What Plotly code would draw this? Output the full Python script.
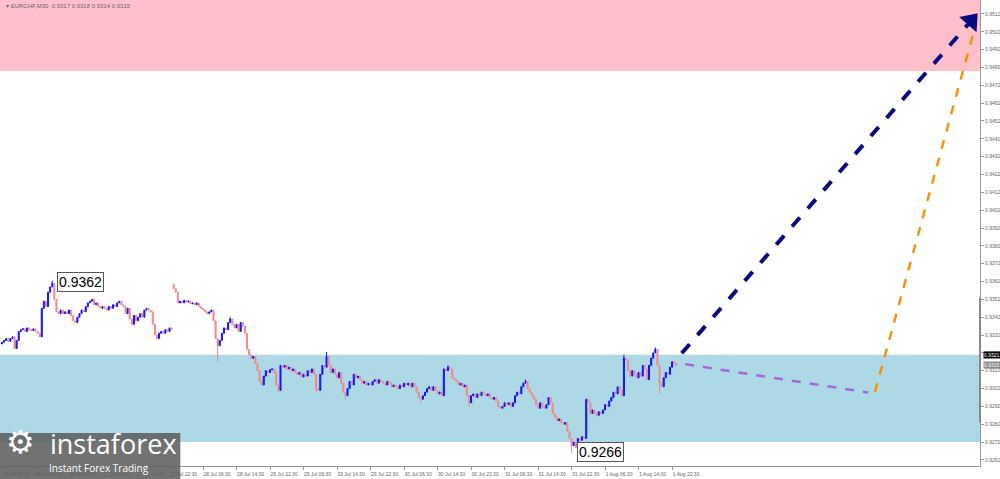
import plotly.graph_objects as go

# EURCHF M30, closes in 1e-5 units (bar 0 = left edge of chart)
closes = [
    93280, 93290, 93300, 93285, 93300, 93310, 93245, 93290, 93340, 93350, 93355, 93340, 93360, 93350, 93345, 93355,
    93340, 93330, 93310, 93470, 93510, 93480, 93560, 93590, 93610, 93520, 93450, 93440, 93460, 93440, 93450, 93440,
    93460, 93430, 93400, 93390, 93420, 93440, 93460, 93450, 93480, 93500, 93510, 93520, 93490, 93500, 93480, 93470,
    93480, 93470, 93460, 93480, 93470, 93490, 93480, 93500, 93510, 93490, 93480, 93440, 93470, 93410, 93380, 93430,
    93400, 93420, 93440, 93420, 93460, 93470, 93460, 93450, 93380, 93320, 93300, 93330, 93340, 93330, 93350, 93340,
    93360, 93350, 93580, 93560, 93500, 93510, 93500, 93515, 93505, 93510, 93495, 93500, 93490, 93500, 93480, 93470,
    93460, 93450, 93440, 93450, 93460, 93400, 93300, 93260, 93290, 93330, 93360, 93350, 93390, 93410, 93380, 93360,
    93380, 93340, 93390, 93370, 93330, 93240, 93210, 93190, 93200, 93160, 93120, 93060, 93040, 93090, 93120, 93110,
    93125, 93130, 93110, 93040, 93010, 93150, 93140, 93150, 93130, 93140, 93120, 93130, 93110, 93100, 93110, 93085,
    93100, 93090, 93120, 93110, 93130, 93100, 93020, 93010, 93100, 93150, 93140, 93200, 93150, 93110, 93130, 93100,
    93080, 93110, 93050, 93000, 92980, 93020, 93060, 93040, 93100, 93080, 93090, 93070, 93050, 93060, 93040, 93050,
    93040, 93060, 93070, 93050, 93070, 93060, 93050, 93040, 93060, 93050, 93030, 93040, 93030, 93020, 93040, 93030,
    93050, 93040, 93050, 93030, 93050, 93030, 93000, 92970, 92960, 92980, 93000, 93020, 93030, 93010, 93030, 93010,
    92990, 93000, 92980, 93130, 93120, 93140, 93130, 93080, 93070, 93060, 93040, 93050, 93030, 93040, 92980, 92940,
    92980, 92990, 92970, 92990, 92980, 93000, 92990, 92980, 92990, 92970, 92960, 92970, 92950, 92920, 92910, 92920,
    92940, 92930, 92940, 92920, 92940, 92980, 93000, 92990, 93030, 93050, 93060, 93020, 93000, 92980, 92960, 92930,
    92910, 92940, 92920, 92910, 92930, 92970, 92940, 92880, 92860, 92840, 92850, 92830, 92820, 92830, 92780, 92740,
    92700, 92720, 92690, 92740, 92730, 92750, 92740, 92960, 92940, 92880, 92900, 92880, 92870, 92890, 92880, 92900,
    92930, 92920, 92950, 92970, 93000, 92990, 93030, 93010, 92980, 93190, 93180, 93120, 93090, 93120, 93100, 93080,
    93110, 93090, 93150, 93130, 93070, 93150, 93190, 93220, 93240, 93150, 93050, 93030, 93080, 93110, 93100, 93140,
    93170, 93160, 93150,
]
first_open = 93270
gap_opens = {82: 93600}
spike_highs = {24: 93625, 82: 93610, 109: 93420, 155: 93225, 213: 93150, 250: 93070, 297: 93210, 312: 93250}
spike_lows = {6: 93240, 103: 93170, 132: 93000, 150: 93000, 164: 92960, 200: 92940, 223: 92920, 272: 92660, 314: 92990}

tick_bars = [0, 16, 32, 48, 64, 80, 96, 112, 128, 144, 160, 176, 192, 208, 224, 240, 256, 272, 288, 304, 320]
tick_text = ["26 Jul 06:30", "26 Jul 14:30", "26 Jul 22:30", "27 Jul 06:30", "27 Jul 14:30", "27 Jul 22:30",
             "28 Jul 06:30", "28 Jul 14:30", "28 Jul 22:30", "29 Jul 06:30", "29 Jul 14:30", "29 Jul 22:30",
             "30 Jul 06:30", "30 Jul 14:30", "30 Jul 22:30", "31 Jul 06:30", "31 Jul 14:30", "31 Jul 22:30",
             "1 Aug 06:30", "1 Aug 14:30", "1 Aug 22:30"]
price_ticks = [0.9262, 0.9272, 0.9282, 0.9292, 0.9302, 0.9312, 0.9322, 0.9332, 0.9342, 0.9352, 0.9362, 0.9372,
               0.9382, 0.9392, 0.9402, 0.9412, 0.9422, 0.9432, 0.9442, 0.9452, 0.9462, 0.9472, 0.9482, 0.9492,
               0.9502, 0.9512]

# zones and forecast wave
sell_zone = [0.9480, 0.9525]
buy_zone = [0.9272, 0.9321]
main_wave_x = [324.6, 462.8]
main_wave_y = [0.93218, 0.95081]
pullback_x = [326.2, 413.6]
pullback_y = [0.93157, 0.92998]
final_x = [416.9, 465.1]
final_y = [0.93001, 0.95064]
marked_high = (26.3, 0.9362)
marked_low = (274.6, 0.92662)

opens, highs, lows = [], [], []
prev = first_open
for i, c in enumerate(closes):
    o = gap_opens.get(i, prev)
    opens.append(o / 1e5)
    highs.append(max(o, c, spike_highs.get(i, 0)) / 1e5)
    lows.append(min(o, c, spike_lows.get(i, 10 ** 6)) / 1e5)
    prev = c
bars = list(range(len(closes)))

fig = go.Figure()
fig.add_trace(go.Candlestick(
    x=bars, open=opens, high=highs, low=lows, close=[c / 1e5 for c in closes],
    increasing=dict(line=dict(color="#1414ff", width=1), fillcolor="#1414ff"),
    decreasing=dict(line=dict(color="#f08a8a", width=1), fillcolor="#f08a8a"),
    whiskerwidth=0, hoverinfo="skip", showlegend=False,
))

fig.add_trace(go.Scatter(x=pullback_x, y=pullback_y, mode="lines",
                         line=dict(color="#a468d8", width=2.5, dash="dash"), showlegend=False))
fig.add_trace(go.Scatter(x=final_x, y=final_y, mode="lines",
                         line=dict(color="#f5920a", width=2.5, dash="dash"), showlegend=False))
fig.add_trace(go.Scatter(x=main_wave_x, y=main_wave_y, mode="lines+markers",
                         line=dict(color="#0a0a80", width=4, dash="dash"),
                         marker=dict(symbol="triangle-up", size=[0, 20], color="#0a0a80", opacity=1,
                                     line=dict(width=0), angleref="previous"),
                         showlegend=False))

fig.add_hrect(y0=sell_zone[0], y1=sell_zone[1], fillcolor="#ffc0cb", opacity=1, line_width=0, layer="below")
fig.add_hrect(y0=buy_zone[0], y1=buy_zone[1], fillcolor="#add8e6", opacity=1, line_width=0, layer="below")

label_font = dict(family="Liberation Sans", size=14, color="black")
fig.add_annotation(x=marked_high[0], y=marked_high[1], text="0.9362", showarrow=False, xanchor="left",
                   bgcolor="white", bordercolor="#555", borderwidth=1, borderpad=1, font=label_font)
fig.add_annotation(x=marked_low[0], y=marked_low[1], text="0.9266", showarrow=False, xanchor="left",
                   bgcolor="white", bordercolor="#555", borderwidth=1, borderpad=1, font=label_font)

# header and price markers on the scale
small = dict(family="Liberation Sans", size=5, color="#666")
fig.add_annotation(xref="paper", yref="paper", x=0.004, y=0.997, xanchor="left", yanchor="top",
                   text="▾ EURCHF,M30  0.9317 0.9318 0.9314 0.9315", showarrow=False,
                   font=dict(family="Liberation Sans", size=6, color="#666"))
fig.add_annotation(xref="paper", x=1.003, y=0.9321, xanchor="left", text="0.9321", showarrow=False,
                   bgcolor="black", font=dict(family="Liberation Sans", size=5, color="white"), borderpad=0)
fig.add_annotation(xref="paper", x=1.003, y=0.9315, xanchor="left", text="0.9315", showarrow=False,
                   bgcolor="#8a8a8a", font=dict(family="Liberation Sans", size=5, color="white"), borderpad=0)
fig.add_shape(type="line", xref="paper", x0=1, x1=1, y0=0.9283, y1=0.9353,
              line=dict(color="#888", width=2))

# logo
fig.add_shape(type="rect", xref="paper", yref="paper", x0=0, x1=0.184, y0=-0.03, y1=0.071,
              fillcolor="rgba(95,95,95,0.88)", line_width=0, layer="above")
fig.add_annotation(xref="paper", yref="paper", x=0.004, y=0.006, xanchor="left", yanchor="bottom", text="⚙",
                   showarrow=False, font=dict(family="DejaVu Sans", size=32, color="white"))
fig.add_annotation(xref="paper", yref="paper", x=0.049, y=0.004, xanchor="left", yanchor="bottom",
                   text="instaforex", showarrow=False, font=dict(family="Open Sans", size=27, color="white"))
fig.add_annotation(xref="paper", yref="paper", x=0.048, y=0.014, xanchor="left", yanchor="top",
                   text="Instant Forex Trading", showarrow=False,
                   font=dict(family="Open Sans", size=10, color="white"))

fig.update_layout(
    width=1000, height=479,
    margin=dict(l=0, r=20, t=0, b=13, autoexpand=False),
    plot_bgcolor="white", paper_bgcolor="white",
    xaxis=dict(range=[-0.955, 467.05], tickvals=tick_bars, ticktext=tick_text, showgrid=False,
               zeroline=False, showline=True, linecolor="#999", ticks="outside", ticklen=3, tickcolor="#999",
               tickfont=small, tickangle=0, ticklabelshift=14, automargin=False,
               rangeslider=dict(visible=False)),
    yaxis=dict(range=[0.92586, 0.95198], side="right", tickvals=price_ticks,
               ticktext=[f"{p:.4f}" for p in price_ticks], showgrid=False, zeroline=False, showline=True,
               linecolor="#999", ticks="outside", ticklen=3, tickcolor="#999", tickfont=small,
               automargin=False),
)

fig.write_html("out.html", config={"displayModeBar": False},
               post_script="document.body.style.margin='0';document.body.style.overflow='hidden';")
